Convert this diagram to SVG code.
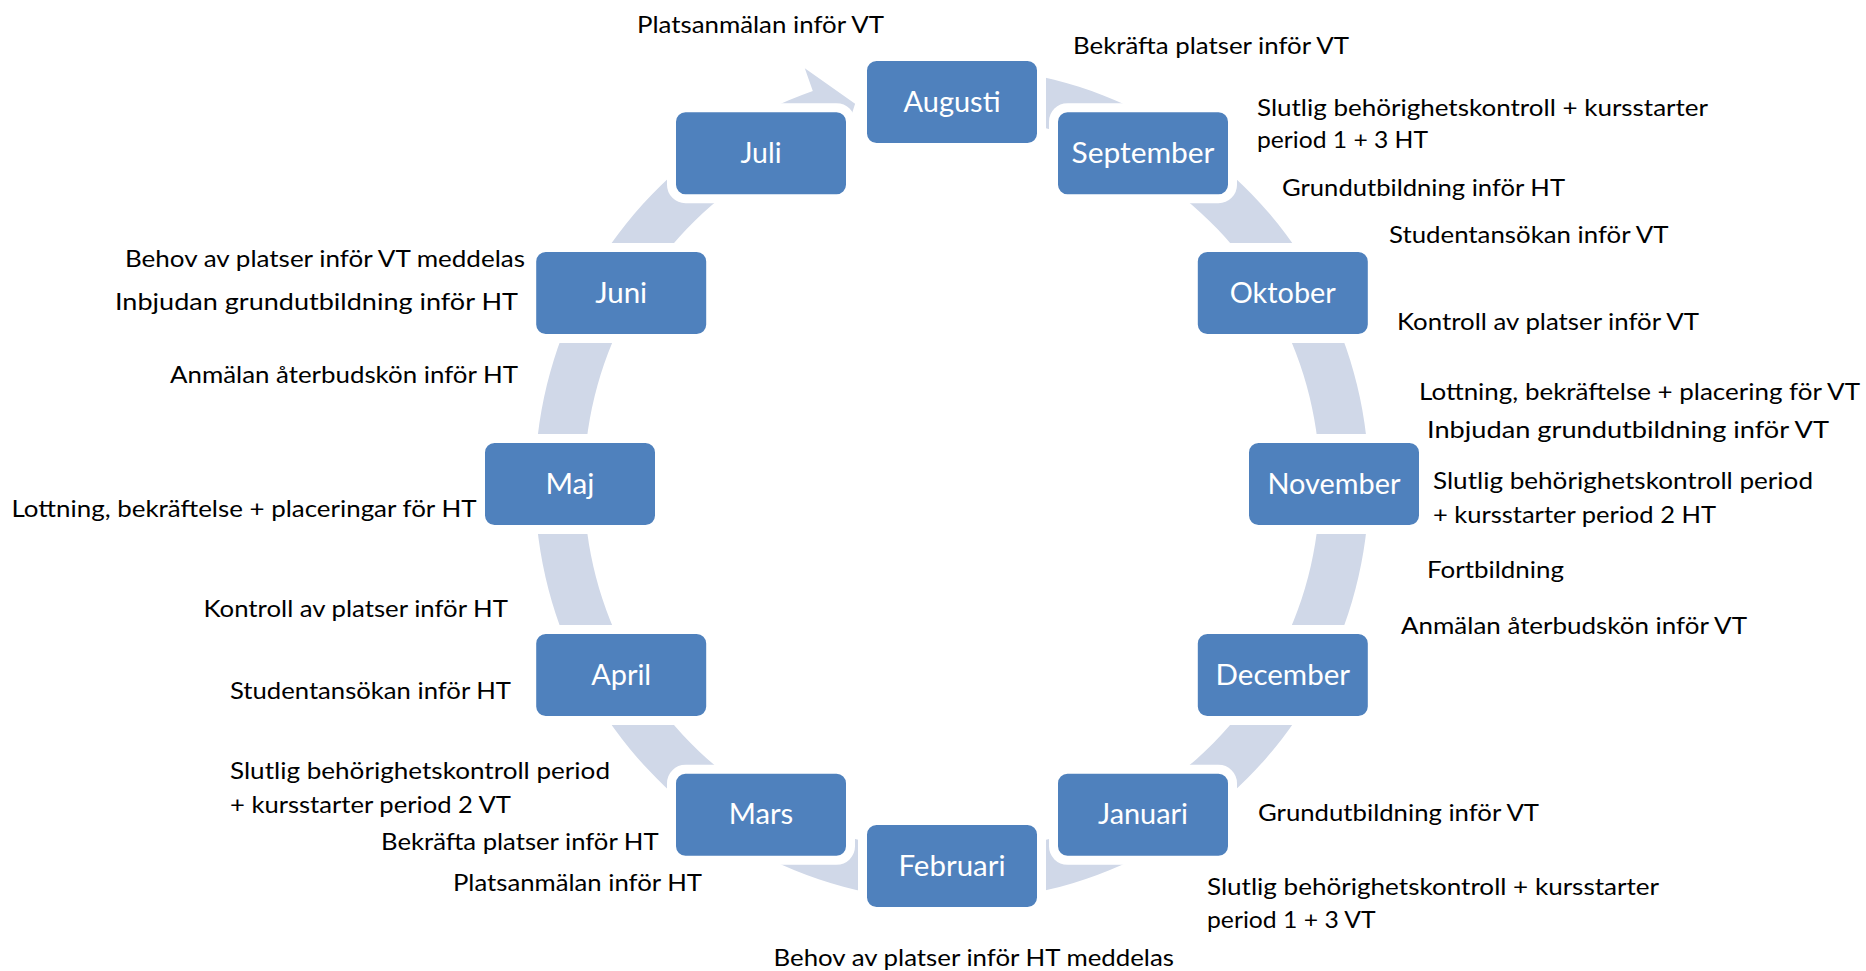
<svg xmlns="http://www.w3.org/2000/svg" width="1866" height="971" viewBox="0 0 1866 971">
<style>
.box{fill:#4F81BD;stroke:#FFFFFF;stroke-width:9}
.m{font-family:Lato,"Liberation Sans",sans-serif;font-size:28px;fill:#FFFFFF;text-anchor:middle}
.l{font-family:Lato,"Liberation Sans",sans-serif;font-size:24px;fill:#000000}
.ring{fill:#D0D8E8}
</style>
<rect width="1866" height="971" fill="#FFFFFF"/>
<g id="connectors">
<path class="ring" d="M 952 67 A 417 417 0 1 1 812.8 90.9 L 804.8 68.3 L 855.1 103.7 L 837.2 159.7 L 829.2 137.1 A 368 368 0 1 0 952 116 Z"/>
</g>
<g id="augusti"><rect class="box" x="862.5" y="56.5" width="179" height="91" rx="14"/><text class="m" x="952" y="111.5" textLength="97" lengthAdjust="spacingAndGlyphs">Augusti</text></g>
<g id="september"><rect class="box" x="1053.5" y="107.7" width="179" height="91" rx="14"/><text class="m" x="1143" y="162.7" textLength="143" lengthAdjust="spacingAndGlyphs">September</text></g>
<g id="oktober"><rect class="box" x="1193.3" y="247.5" width="179" height="91" rx="14"/><text class="m" x="1282.8" y="302.5" textLength="106" lengthAdjust="spacingAndGlyphs">Oktober</text></g>
<g id="november"><rect class="box" x="1244.5" y="438.5" width="179" height="91" rx="14"/><text class="m" x="1334" y="493.5" textLength="133" lengthAdjust="spacingAndGlyphs">November</text></g>
<g id="december"><rect class="box" x="1193.3" y="629.5" width="179" height="91" rx="14"/><text class="m" x="1282.8" y="684.5" textLength="134.5" lengthAdjust="spacingAndGlyphs">December</text></g>
<g id="januari"><rect class="box" x="1053.5" y="769.3" width="179" height="91" rx="14"/><text class="m" x="1143" y="824.3" textLength="90" lengthAdjust="spacingAndGlyphs">Januari</text></g>
<g id="februari"><rect class="box" x="862.5" y="820.5" width="179" height="91" rx="14"/><text class="m" x="952" y="875.5" textLength="107" lengthAdjust="spacingAndGlyphs">Februari</text></g>
<g id="mars"><rect class="box" x="671.5" y="769.3" width="179" height="91" rx="14"/><text class="m" x="761" y="824.3" textLength="64.5" lengthAdjust="spacingAndGlyphs">Mars</text></g>
<g id="april"><rect class="box" x="531.7" y="629.5" width="179" height="91" rx="14"/><text class="m" x="621.2" y="684.5" textLength="60" lengthAdjust="spacingAndGlyphs">April</text></g>
<g id="maj"><rect class="box" x="480.5" y="438.5" width="179" height="91" rx="14"/><text class="m" x="570" y="493.5" textLength="49" lengthAdjust="spacingAndGlyphs">Maj</text></g>
<g id="juni"><rect class="box" x="531.7" y="247.5" width="179" height="91" rx="14"/><text class="m" x="621.2" y="302.5" textLength="52" lengthAdjust="spacingAndGlyphs">Juni</text></g>
<g id="juli"><rect class="box" x="671.5" y="107.7" width="179" height="91" rx="14"/><text class="m" x="761" y="162.7" textLength="41" lengthAdjust="spacingAndGlyphs">Juli</text></g>
<g id="labels">
<text class="l" x="637" y="32.5" textLength="247" lengthAdjust="spacingAndGlyphs">Platsanmälan inför VT</text>
<text class="l" x="1073" y="54" textLength="276" lengthAdjust="spacingAndGlyphs">Bekräfta platser inför VT</text>
<text class="l" x="1257" y="115.5" textLength="451" lengthAdjust="spacingAndGlyphs">Slutlig behörighetskontroll + kursstarter</text>
<text class="l" x="1257" y="147.5" textLength="171" lengthAdjust="spacingAndGlyphs">period 1 + 3 HT</text>
<text class="l" x="1282" y="195.5" textLength="283" lengthAdjust="spacingAndGlyphs">Grundutbildning inför HT</text>
<text class="l" x="1389" y="243" textLength="279.5" lengthAdjust="spacingAndGlyphs">Studentansökan inför VT</text>
<text class="l" x="1397" y="330" textLength="302" lengthAdjust="spacingAndGlyphs">Kontroll av platser inför VT</text>
<text class="l" x="1419" y="400" textLength="441" lengthAdjust="spacingAndGlyphs">Lottning, bekräftelse + placering för VT</text>
<text class="l" x="1427" y="438" textLength="402" lengthAdjust="spacingAndGlyphs">Inbjudan grundutbildning inför VT</text>
<text class="l" x="1433" y="489" textLength="380" lengthAdjust="spacingAndGlyphs">Slutlig behörighetskontroll period</text>
<text class="l" x="1433" y="522.5" textLength="283" lengthAdjust="spacingAndGlyphs">+ kursstarter period 2 HT</text>
<text class="l" x="1427" y="577.5" textLength="137" lengthAdjust="spacingAndGlyphs">Fortbildning</text>
<text class="l" x="1401" y="634" textLength="346" lengthAdjust="spacingAndGlyphs">Anmälan återbudskön inför VT</text>
<text class="l" x="1258" y="820.5" textLength="281" lengthAdjust="spacingAndGlyphs">Grundutbildning inför VT</text>
<text class="l" x="1207" y="895" textLength="452" lengthAdjust="spacingAndGlyphs">Slutlig behörighetskontroll + kursstarter</text>
<text class="l" x="1207" y="927.5" textLength="168.5" lengthAdjust="spacingAndGlyphs">period 1 + 3 VT</text>
<text class="l" x="773.5" y="965.5" textLength="400.5" lengthAdjust="spacingAndGlyphs">Behov av platser inför HT meddelas</text>
<text class="l" x="453" y="890.5" textLength="249" lengthAdjust="spacingAndGlyphs">Platsanmälan inför HT</text>
<text class="l" x="381" y="850" textLength="277.6" lengthAdjust="spacingAndGlyphs">Bekräfta platser inför HT</text>
<text class="l" x="230" y="779" textLength="380" lengthAdjust="spacingAndGlyphs">Slutlig behörighetskontroll period</text>
<text class="l" x="230" y="812.5" textLength="281" lengthAdjust="spacingAndGlyphs">+ kursstarter period 2 VT</text>
<text class="l" x="230" y="699" textLength="281" lengthAdjust="spacingAndGlyphs">Studentansökan inför HT</text>
<text class="l" x="203.5" y="616.5" textLength="304.5" lengthAdjust="spacingAndGlyphs">Kontroll av platser inför HT</text>
<text class="l" x="11.5" y="516.5" textLength="465" lengthAdjust="spacingAndGlyphs">Lottning, bekräftelse + placeringar för HT</text>
<text class="l" x="170" y="382.5" textLength="348" lengthAdjust="spacingAndGlyphs">Anmälan återbudskön inför HT</text>
<text class="l" x="115" y="309.5" textLength="403" lengthAdjust="spacingAndGlyphs">Inbjudan grundutbildning inför HT</text>
<text class="l" x="125" y="266.5" textLength="400" lengthAdjust="spacingAndGlyphs">Behov av platser inför VT meddelas</text>
</g>
</svg>
